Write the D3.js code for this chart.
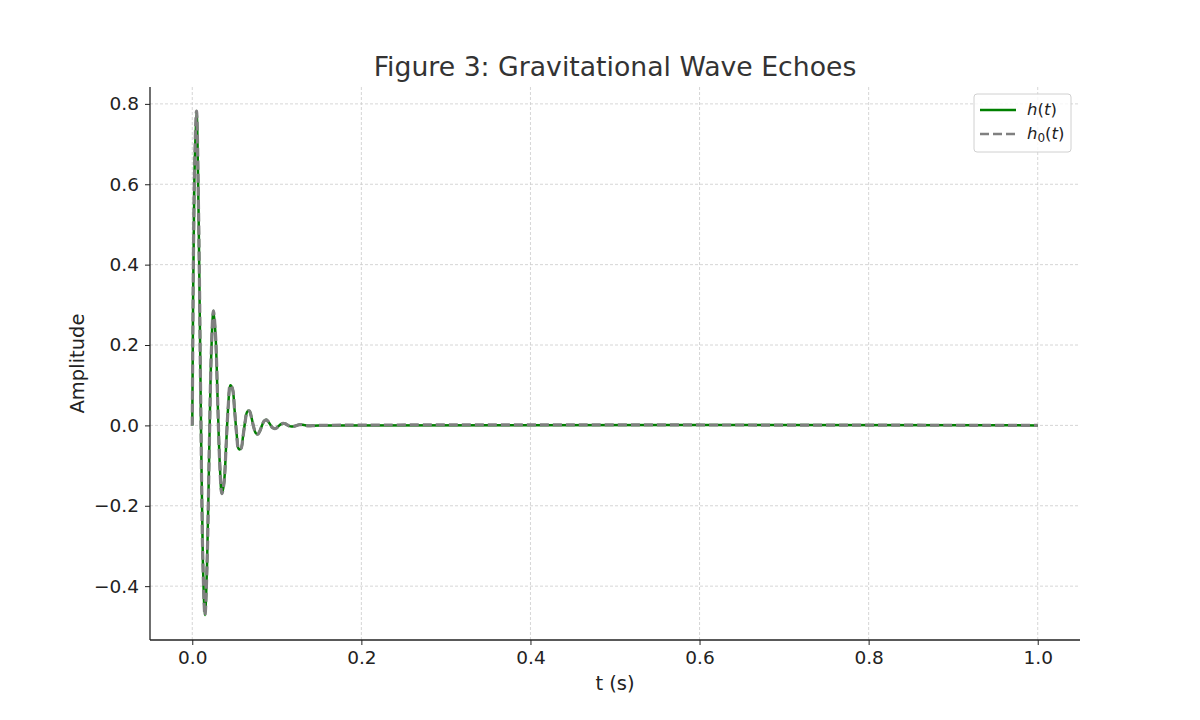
<!DOCTYPE html>
<html>
<head>
<meta charset="utf-8">
<script src="https://cdn.jsdelivr.net/npm/d3@7"></script>
<style>
  body { margin: 0; background: #fff; }
  svg { font-family: "DejaVu Sans", sans-serif; }
</style>
</head>
<body>
<svg id="chart" width="1200" height="720"></svg>
<script>
// time samples (s) and amplitudes
var tValues = [0, 0.0025, 0.005, 0.0075, 0.01, 0.0125, 0.015, 0.0175, 0.02, 0.0225,
  0.025, 0.0275, 0.03, 0.0325, 0.035, 0.0375, 0.04, 0.0425, 0.045, 0.0475,
  0.05, 0.0525, 0.055, 0.0575, 0.06, 0.0625, 0.065, 0.0675, 0.07, 0.0725,
  0.075, 0.0775, 0.08, 0.0825, 0.085, 0.0875, 0.09, 0.0925, 0.095, 0.0975,
  0.1, 0.1025, 0.105, 0.1075, 0.11, 0.1125, 0.115, 0.1175, 0.12, 0.1225,
  0.125, 0.1275, 0.13, 0.1325, 0.135, 0.1375, 0.14, 0.15, 1.0]
var hValues = [0, 0.611, 0.782, 0.523, 0.058, -0.335, -0.472, -0.345, -0.07, 0.18,
  0.285, 0.225, 0.064, -0.094, -0.17, -0.144, -0.052, 0.047, 0.1, 0.092,
  0.039, -0.022, -0.059, -0.058, -0.028, 0.009, 0.034, 0.036, 0.02, -0.003,
  -0.019, -0.022, -0.014, 0, 0.011, 0.014, 0.009, 0.001, -0.006, -0.008,
  -0.006, -0.001, 0.003, 0.005, 0.004, 0.001, -0.002, -0.003, -0.0025, -0.001,
  0.001, 0.002, 0.0016, 0.0007, -0.0004, -0.001, -0.001, 0, 0]
var h0Values = hValues.slice()
var xTicks = [0, 0.2, 0.4, 0.6, 0.8, 1.0]
var yTicks = [-0.4, -0.2, 0, 0.2, 0.4, 0.6, 0.8]

var svg = d3.select("#chart")
var mLeft = 150, mRight = 1080, mTop = 87, mBottom = 640

var x = d3.scaleLinear().domain([-0.05, 1.05]).range([mLeft, mRight])
var y = d3.scaleLinear().domain([-0.534, 0.842]).range([mBottom, mTop])

var fmt = function (d) { return d3.format(".1f")(d).replace("-", "\u2212") }

// grid
var grid = svg.append("g").attr("stroke", "#cccccc").attr("stroke-width", 0.8)
  .attr("stroke-dasharray", "3,2")
grid.selectAll(".gx").data(xTicks).enter().append("line")
  .attr("x1", function (d) { return x(d) }).attr("x2", function (d) { return x(d) })
  .attr("y1", mTop).attr("y2", mBottom)
grid.selectAll(".gy").data(yTicks).enter().append("line")
  .attr("y1", function (d) { return y(d) }).attr("y2", function (d) { return y(d) })
  .attr("x1", mLeft).attr("x2", mRight)

// lines
var pts = tValues.map(function (t, i) { return [t, hValues[i]] })
var pts0 = tValues.map(function (t, i) { return [t, h0Values[i]] })
var line = d3.line()
  .x(function (d) { return x(d[0]) })
  .y(function (d) { return y(d[1]) })
  .curve(d3.curveCatmullRom.alpha(0.5))

svg.append("path").datum(pts).attr("d", line)
  .attr("fill", "none").attr("stroke", "#008000").attr("stroke-width", 2.5)
svg.append("path").datum(pts0).attr("d", line)
  .attr("fill", "none").attr("stroke", "#808080").attr("stroke-width", 3.2)
  .attr("stroke-dasharray", "9,4")

// axes
var xAxis = svg.append("g").attr("transform", "translate(0," + mBottom + ")")
  .call(d3.axisBottom(x).tickValues(xTicks).tickFormat(fmt).tickSizeOuter(0).tickSize(5).tickPadding(6))
var yAxis = svg.append("g").attr("transform", "translate(" + mLeft + ",0)")
  .call(d3.axisLeft(y).tickValues(yTicks).tickFormat(fmt).tickSizeOuter(0).tickSize(5).tickPadding(6))
svg.selectAll(".domain").attr("stroke", "#222").attr("stroke-width", 1.3)
svg.selectAll(".tick line").attr("stroke", "#222").attr("stroke-width", 1)
svg.selectAll(".tick text").attr("font-family", "DejaVu Sans").attr("font-size", 18.5).attr("fill", "#222")
yAxis.select(".domain").attr("d", "M0," + mTop + "V" + mBottom)
xAxis.select(".domain").attr("d", "M" + mLeft + ",0H" + mRight)

// labels
svg.append("text").attr("x", (mLeft + mRight) / 2).attr("y", 76)
  .attr("text-anchor", "middle").attr("font-size", 26.7).attr("fill", "#333")
  .text("Figure 3: Gravitational Wave Echoes")
svg.append("text").attr("x", (mLeft + mRight) / 2).attr("y", 690)
  .attr("text-anchor", "middle").attr("font-size", 19.5).attr("fill", "#222")
  .text("t (s)")
svg.append("text").attr("transform", "translate(84," + (mTop + mBottom) / 2 + ") rotate(-90)")
  .attr("text-anchor", "middle").attr("font-size", 19.5).attr("fill", "#222")
  .text("Amplitude")

// legend
var lg = svg.append("g").attr("transform", "translate(974,94)")
lg.append("rect").attr("width", 97).attr("height", 58).attr("rx", 3)
  .attr("fill", "#fff").attr("fill-opacity", 0.8).attr("stroke", "#d0d0d0")
lg.append("line").attr("x1", 6).attr("x2", 42).attr("y1", 16).attr("y2", 16)
  .attr("stroke", "#008000").attr("stroke-width", 2.5)
lg.append("line").attr("x1", 6).attr("x2", 42).attr("y1", 40).attr("y2", 40)
  .attr("stroke", "#808080").attr("stroke-width", 2.5).attr("stroke-dasharray", "9,4")
var t1 = lg.append("text").attr("x", 53).attr("y", 21).attr("font-size", 16.5).attr("fill", "#222")
t1.append("tspan").attr("font-style", "italic").text("h")
t1.append("tspan").text("(")
t1.append("tspan").attr("font-style", "italic").text("t")
t1.append("tspan").text(")")
var t2 = lg.append("text").attr("x", 53).attr("y", 45).attr("font-size", 16.5).attr("fill", "#222")
t2.append("tspan").attr("font-style", "italic").text("h")
t2.append("tspan").attr("font-size", 12).attr("dy", 3).text("0")
t2.append("tspan").attr("dy", -3).text("(")
t2.append("tspan").attr("font-style", "italic").text("t")
t2.append("tspan").text(")")
</script>
</body>
</html>
